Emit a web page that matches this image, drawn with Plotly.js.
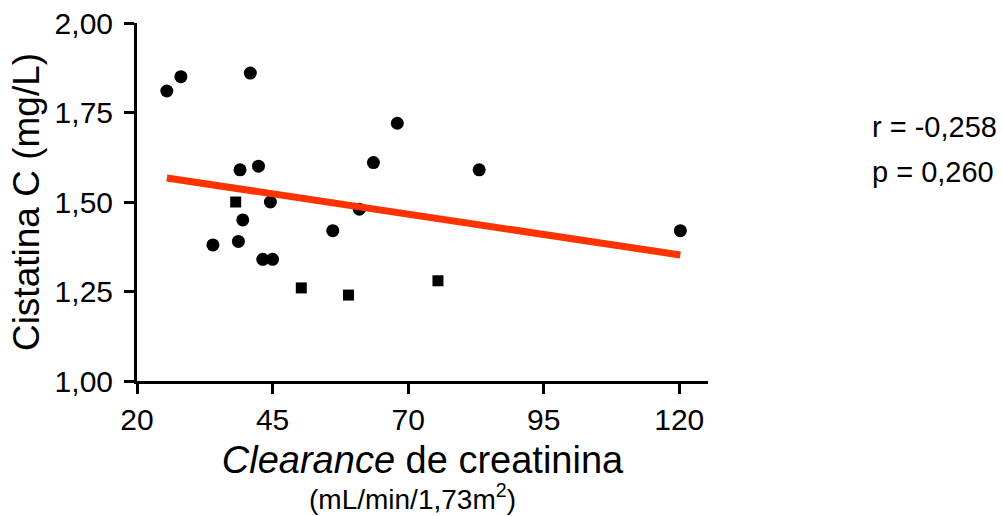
<!DOCTYPE html>
<html>
<head>
<meta charset="utf-8">
<script src="https://cdn.plot.ly/plotly-3.0.1.min.js"></script>
<style>html,body{margin:0;padding:0;background:#fff;}#chart{width:1002px;height:516px;}</style>
</head>
<body>
<div id="chart"></div>
<script>
// Circle-marker points: creatinine clearance (mL/min/1,73m²) vs cystatin C (mg/L)
const circleX = [25.5, 28.1, 40.9, 68.0, 63.6, 39.0, 42.4, 44.6, 39.5, 34.0, 38.7, 43.2, 45.0, 56.1, 61.0, 83.1, 120.2];
const circleY = [1.81, 1.85, 1.86, 1.72, 1.61, 1.59, 1.60, 1.50, 1.45, 1.38, 1.39, 1.34, 1.34, 1.42, 1.48, 1.59, 1.42];
// Square-marker points
const squareX = [38.2, 50.3, 59.0, 75.5];
const squareY = [1.50, 1.26, 1.24, 1.28];
// Regression line end points
const fitX = [25.5, 120.2];
const fitY = [1.567, 1.352];
// Statistics text
const statR = "r = -0,258";
const statP = "p = 0,260";
// Tick values
const xTicks = [20, 45, 70, 95, 120];
const yTicks = [1.00, 1.25, 1.50, 1.75, 2.00];

const FONT = "Liberation Sans, Arial, Helvetica, sans-serif";

const traces = [
  {x: circleX, y: circleY, type: "scatter", mode: "markers",
   marker: {symbol: "circle", size: 13, color: "#000"}, hoverinfo: "x+y"},
  {x: squareX, y: squareY, type: "scatter", mode: "markers",
   marker: {symbol: "square", size: 11, color: "#000"}, hoverinfo: "x+y"},
  {x: fitX, y: fitY, type: "scatter", mode: "lines",
   line: {color: "#FF3300", width: 7}, hoverinfo: "skip"}
];

const layout = {
  width: 1002, height: 516,
  margin: {l: 137, r: 294, t: 23, b: 135, pad: 0},
  paper_bgcolor: "#fff", plot_bgcolor: "#fff",
  showlegend: false,
  separators: ", ",
  font: {family: FONT, color: "#000", size: 30},
  xaxis: {
    range: [20, 125.3], tickvals: xTicks, tickformat: "d",
    showline: true, linecolor: "#000", linewidth: 3,
    ticks: "outside", ticklen: 10, tickwidth: 3, tickcolor: "#000",
    showgrid: false, zeroline: false,
    tickfont: {size: 30, family: FONT},
    title: {text: "<i>Clearance</i> de creatinina",
            font: {size: 38, family: FONT}, standoff: 12}
  },
  yaxis: {
    range: [1, 2], tickvals: yTicks, tickformat: ".2f",
    showline: true, linecolor: "#000", linewidth: 3,
    ticks: "outside", ticklen: 10, tickwidth: 3, tickcolor: "#000",
    ticklabelstandoff: 5,
    showgrid: false, zeroline: false,
    tickfont: {size: 30, family: FONT},
    title: {text: "Cistatina C (mg/L)", font: {size: 37, family: FONT}, standoff: 4}
  },
  annotations: [
    {text: "(mL/min/1,73m<sup>2</sup>)", xref: "paper", yref: "paper", x: 0.482, y: -0.325,
     xanchor: "center", yanchor: "middle", showarrow: false, font: {size: 28, family: FONT}},
    {text: statR, xref: "paper", yref: "paper", x: 1.2845, y: 0.71, xanchor: "left", yanchor: "middle",
     showarrow: false, font: {size: 29, family: FONT}},
    {text: statP, xref: "paper", yref: "paper", x: 1.2845, y: 0.584, xanchor: "left", yanchor: "middle",
     showarrow: false, font: {size: 29, family: FONT}}
  ]
};

Plotly.newPlot("chart", traces, layout, {displayModeBar: false, staticPlot: true});
</script>
</body>
</html>
